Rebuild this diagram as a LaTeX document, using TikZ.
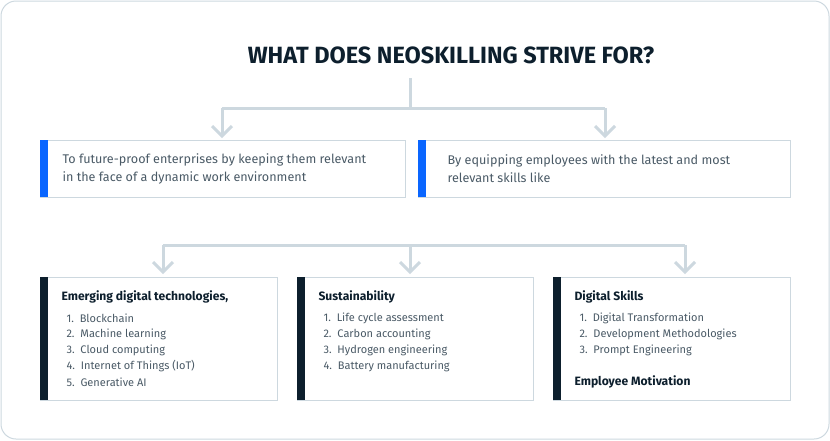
\documentclass[tikz,border=0pt]{standalone}
\usepackage{fontspec}
\setmainfont{Fira Sans}
\definecolor{ln}{HTML}{CDD8DF}
\definecolor{dk}{HTML}{0D1F2D}
\definecolor{bl}{HTML}{0A66FF}
\definecolor{tx}{HTML}{4A5A66}
\begin{document}
\begin{tikzpicture}[x=1pt,y=-1pt,
  conn/.style={ln,line width=3pt},
  chev/.style={ln,line width=3pt},
  box/.style={draw=ln,line width=1pt,fill=white},
  body/.style={anchor=west,font=\fontsize{12.6}{18}\selectfont,text=tx,align=left},
  head/.style={anchor=west,font=\bfseries\fontsize{12.1}{15}\selectfont,text=dk},
  item/.style={anchor=west,font=\fontsize{11}{13}\selectfont,text=tx}]
\useasboundingbox (0,0) rectangle (830,440);
\draw[ln,line width=1pt,rounded corners=15pt] (1,1) rectangle (829,439);
\node[font=\bfseries\fontsize{23.5}{28}\selectfont,text=dk] (title) at (451,55) {WHAT DOES NEOSKILLING STRIVE FOR?};
% top connector
\coordinate (s1) at (410,78);
\coordinate (j1) at (410,108);
\coordinate (l1) at (222,108);
\coordinate (r1) at (605,108);
\coordinate (a1) at (222,136);
\coordinate (a2) at (605,136);
\draw[conn] (s1) -- (j1);
\draw[conn] (l1) -- (r1);
\draw[conn] (l1) -- (a1);
\draw[conn] (r1) -- (a2);
\foreach \p in {a1,a2}{\draw[chev] ([xshift=-10pt,yshift=10pt]\p) -- (\p) -- ([xshift=10pt,yshift=10pt]\p);}
% boxes row 2
\draw[box] (40,140) rectangle (405,197);
\fill[bl] (40,140) rectangle (48,197);
\node[body] (t1) at (59,169) {To future-proof enterprises by keeping them relevant\\in the face of a dynamic work environment};
\draw[box] (418,140) rectangle (790,197);
\fill[bl] (418,140) rectangle (426,197);
\node[body] (t2) at (444,169) {By equipping employees with the latest and most\\relevant skills like};
% second connector
\coordinate (l2) at (163,245);
\coordinate (m2) at (410,245);
\coordinate (r2) at (685,245);
\coordinate (b1) at (163,272);
\coordinate (b2) at (410,272);
\coordinate (b3) at (685,272);
\draw[conn] (l2) -- (r2);
\draw[conn] (l2) -- (b1);
\draw[conn] (m2) -- (b2);
\draw[conn] (r2) -- (b3);
\foreach \p in {b1,b2,b3}{\draw[chev] ([xshift=-10pt,yshift=10pt]\p) -- (\p) -- ([xshift=10pt,yshift=10pt]\p);}
% bottom boxes
\foreach \xa/\xb in {40/277,297/533,553/790}{
  \draw[box] (\xa,277) rectangle (\xb,400);
  \fill[dk] (\xa,277) rectangle (\xa+8,400);
}
\node[head] (h1) at (58,297) {Emerging digital technologies,};
\node[item] (i11) at (63,318) {1.\ \ Blockchain};
\node[item] (i12) at (63,334) {2.\ \ Machine learning};
\node[item] (i13) at (63,350) {3.\ \ Cloud computing};
\node[item] (i14) at (63,366) {4.\ \ Internet of Things (IoT)};
\node[item] (i15) at (63,382) {5.\ \ Generative AI};
\node[head] (h2) at (315,297) {Sustainability};
\node[item] (i21) at (320,318) {1.\ \ Life cycle assessment};
\node[item] (i22) at (320,334) {2.\ \ Carbon accounting};
\node[item] (i23) at (320,350) {3.\ \ Hydrogen engineering};
\node[item] (i24) at (320,366) {4.\ \ Battery manufacturing};
\node[head] (h3) at (571,297) {Digital Skills};
\node[item] (i31) at (576,318) {1.\ \ Digital Transformation};
\node[item] (i32) at (576,334) {2.\ \ Development Methodologies};
\node[item] (i33) at (576,350) {3.\ \ Prompt Engineering};
\node[head] (h4) at (571,382) {Employee Motivation};
\end{tikzpicture}
\end{document}
